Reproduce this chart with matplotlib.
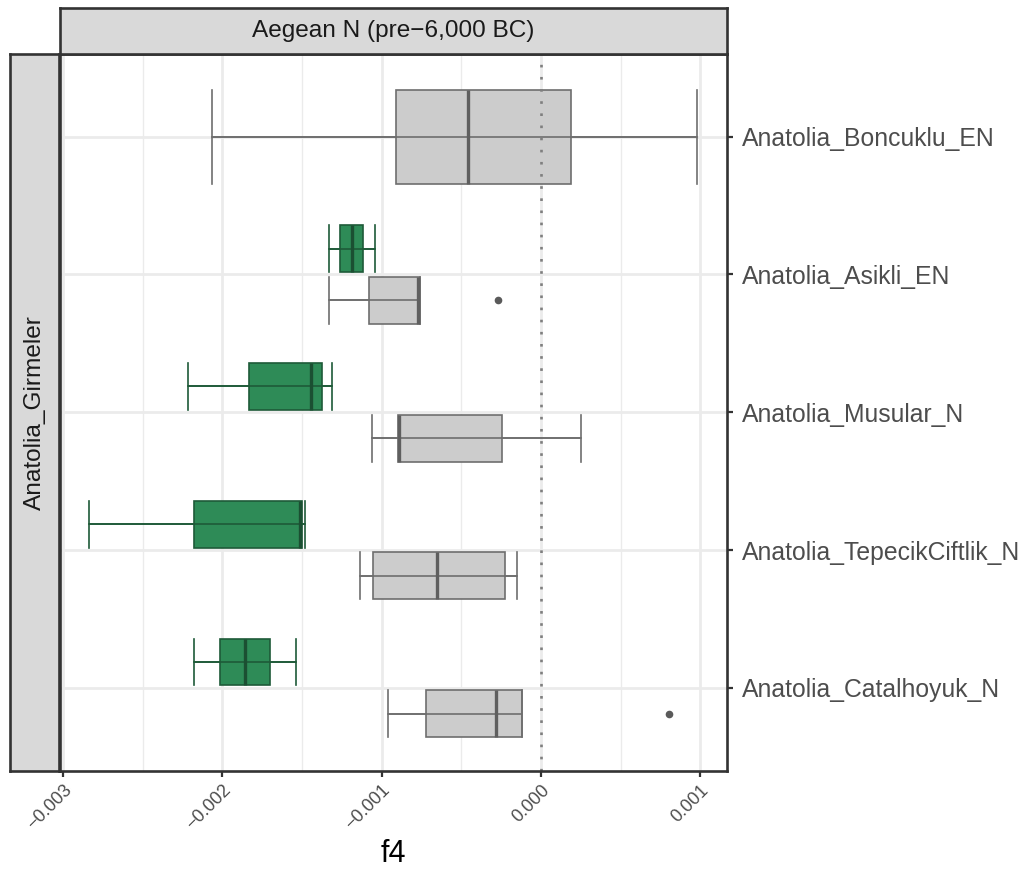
import numpy as np
import matplotlib
matplotlib.use("Agg")
import matplotlib.pyplot as plt

plt.rcParams['font.family'] = ['Liberation Sans', 'DejaVu Sans']

# populations, top to bottom
populations = ["Anatolia_Boncuklu_EN", "Anatolia_Asikli_EN", "Anatolia_Musular_N",
               "Anatolia_TepecikCiftlik_N", "Anatolia_Catalhoyuk_N"]

# grey boxes (one per population)
grey_whislo = [-0.002063, -0.001333, -0.001063, -0.001136, -0.000963]
grey_q1 = [-0.000912, -0.001082, -0.000901, -0.001055, -0.000725]
grey_med = [-0.000459, -0.000772, -0.000891, -0.000650, -0.000285]
grey_q3 = [0.000189, -0.000761, -0.000245, -0.000228, -0.000118]
grey_whishi = [0.000981, -0.000761, 0.000250, -0.000151, -0.000118]
grey_fliers = [[], [-0.000270], [], [], [0.000805]]

# green boxes (Asikli .. Catalhoyuk)
green_pops = populations[1:]
green_whislo = [-0.001333, -0.002218, -0.002836, -0.002177]
green_q1 = [-0.001262, -0.001835, -0.002180, -0.002016]
green_med = [-0.001187, -0.001447, -0.001516, -0.001860]
green_q3 = [-0.001115, -0.001377, -0.001499, -0.001699]
green_whishi = [-0.001040, -0.001310, -0.001484, -0.001541]

xtick_vals = [-0.003, -0.002, -0.001, 0.000, 0.001]
xtick_labels = ["\u22120.003", "\u22120.002", "\u22120.001", "0.000", "0.001"]

top_strip = "Aegean N (pre\u22126,000 BC)"
left_strip = "Anatolia_Girmeler"

W, H = 1030, 873
fig = plt.figure(figsize=(W / 100, H / 100), dpi=100)

def frac(x0, y0, x1, y1):
    return [x0 / W, 1 - y1 / H, (x1 - x0) / W, (y1 - y0) / H]

ax = fig.add_axes(frac(59.5, 54, 727, 770.5))
ax.set_facecolor('white')

ypos = {p: i + 1 for i, p in enumerate(populations)}
off = 0.1875


def make_stats(lo, q1, med, q3, hi, fl=None):
    out = []
    for i in range(len(lo)):
        out.append(dict(whislo=lo[i], q1=q1[i], med=med[i], q3=q3[i], whishi=hi[i],
                        fliers=(fl[i] if fl else [])))
    return out


grey_stats = make_stats(grey_whislo, grey_q1, grey_med, grey_q3, grey_whishi, grey_fliers)
green_stats = make_stats(green_whislo, green_q1, green_med, green_q3, green_whishi)

grey_pos = [ypos[p] + (off if p in green_pops else 0) for p in populations]
grey_w = [0.34 if p in green_pops else 0.68 for p in populations]
green_pos = [ypos[p] - off for p in green_pops]
green_w = [0.34] * len(green_pops)


def draw(stats, pos, widths, fill, edge, med_col):
    ax.bxp(stats, positions=pos, widths=widths, capwidths=widths,
           orientation='horizontal', patch_artist=True, manage_ticks=False,
           boxprops=dict(facecolor=fill, edgecolor=edge, linewidth=1.2, zorder=3),
           medianprops=dict(color=med_col, linewidth=2.4, zorder=5),
           whiskerprops=dict(color=edge, linewidth=1.2, zorder=4),
           capprops=dict(color=edge, linewidth=1.2, zorder=4),
           flierprops=dict(marker='o', markerfacecolor='#5a5a5a', markeredgecolor='none',
                           markersize=5.5, zorder=4))
    # errorbar line running through the box
    ax.hlines(pos, [s['whislo'] for s in stats], [s['whishi'] for s in stats],
              colors=edge, linewidth=1.2, zorder=4)


draw(grey_stats, grey_pos, grey_w, '#cccccc', '#6e6e6e', '#5f5f5f')
draw(green_stats, green_pos, green_w, '#2e8b57', '#1e5a38', '#1b4f32')

ax.axvline(0, color='#7f7f7f', linewidth=1.9, linestyle=(0, (1, 3.6)), zorder=6)

ax.set_xlim(-0.003023, 0.0011676)
ax.set_ylim(5.6, 0.4)
ax.set_xticks(xtick_vals)
ax.set_xticklabels(xtick_labels, rotation=45, ha='right', va='top',
                   rotation_mode='anchor', fontsize=13, color='#4d4d4d')
ax.set_xticks([-0.0025, -0.0015, -0.0005, 0.0005], minor=True)
ax.set_yticks(list(ypos.values()))
ax.set_yticklabels(populations, fontsize=17.8, color='#4d4d4d')
ax.yaxis.tick_right()
ax.tick_params(axis='both', which='major', length=4, width=1.6, color='#333333')
ax.tick_params(axis='x', which='major', pad=4)
ax.tick_params(axis='y', which='major', pad=7)
ax.tick_params(axis='x', which='minor', length=0)
ax.grid(which='major', color='#ebebeb', linewidth=2.0, zorder=0)
ax.grid(which='minor', axis='x', color='#ebebeb', linewidth=1.0, zorder=0)
ax.set_axisbelow(True)
for s in ax.spines.values():
    s.set_color('#333333')
    s.set_linewidth(1.9)
    s.set_zorder(7)
ax.set_xlabel("f4", fontsize=22, color='black', labelpad=4)

# facet strips
st = fig.add_axes(frac(59.5, 8, 727, 54))
sl = fig.add_axes(frac(10, 54, 59.5, 770.5))
for a in (st, sl):
    a.set_facecolor('#d9d9d9')
    a.set_xticks([])
    a.set_yticks([])
    for s in a.spines.values():
        s.set_color('#333333')
        s.set_linewidth(1.9)
st.text(0.5, 0.5, top_strip, ha='center', va='center', fontsize=17.6,
        color='#1a1a1a', transform=st.transAxes)
sl.text(0.5, 0.5, left_strip, ha='center', va='center', rotation=90, fontsize=17.6,
        color='#1a1a1a', transform=sl.transAxes)

fig.savefig("out.png", dpi=100)
